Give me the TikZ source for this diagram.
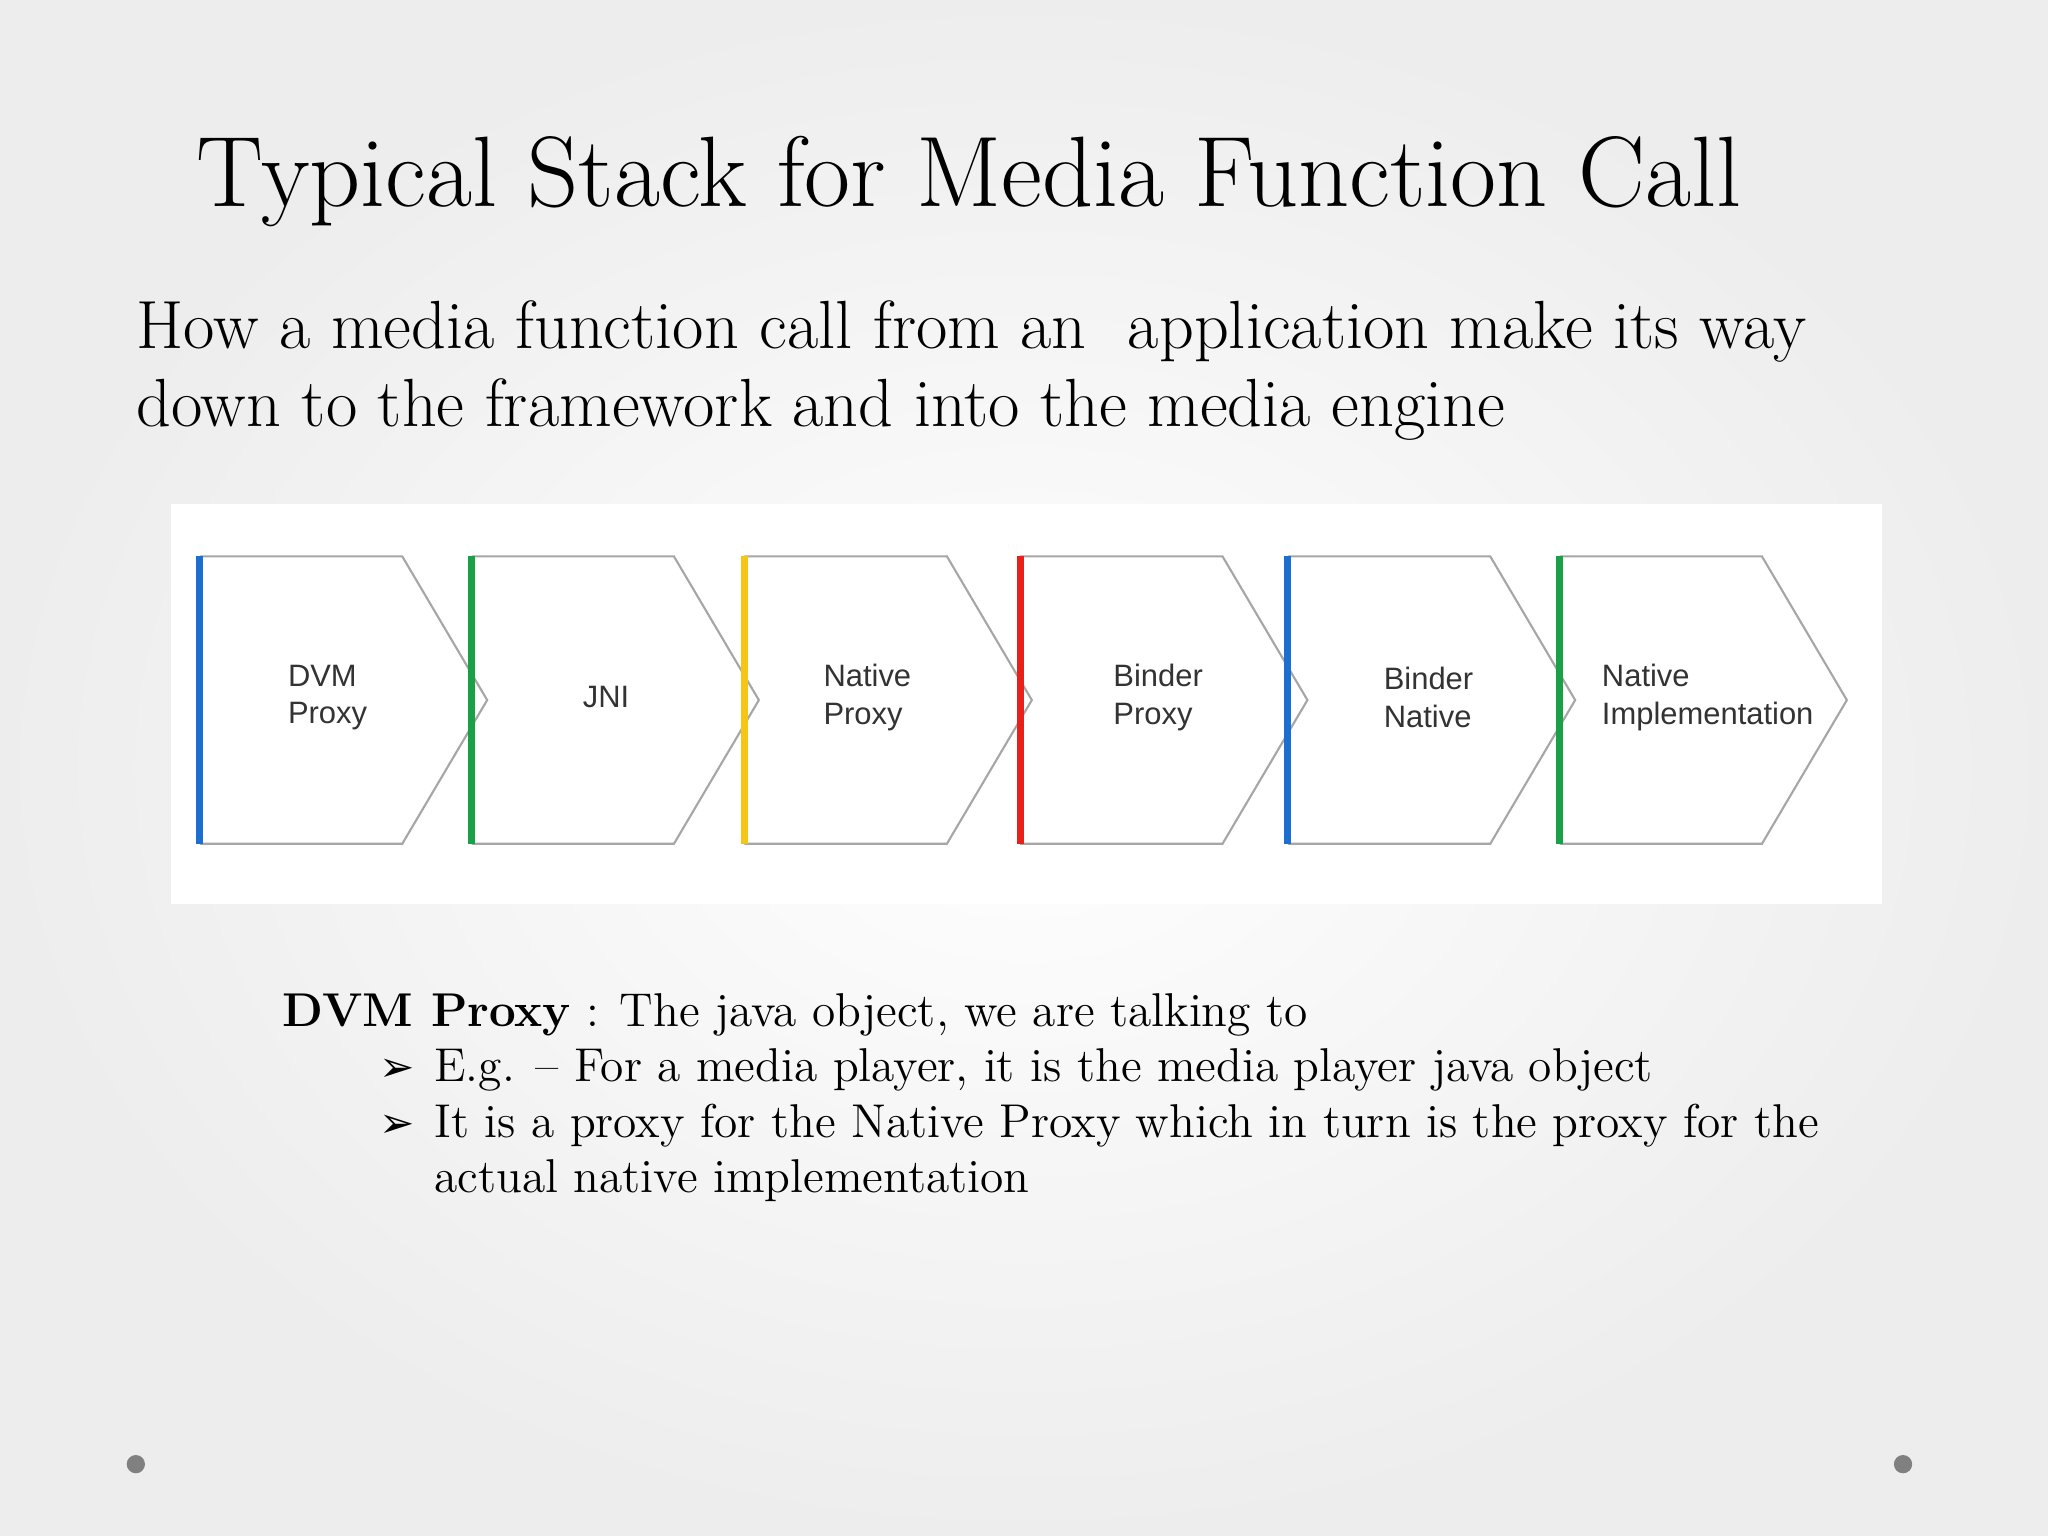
\documentclass[tikz,border=0pt]{standalone}
\usepackage{fontspec}
\newfontfamily\diag{Liberation Sans}
\newfontfamily\dingf{DejaVu Sans}
\definecolor{gblue}{HTML}{1A6FD0}
\definecolor{ggreen}{HTML}{1AA048}
\definecolor{gyellow}{HTML}{F5C518}
\definecolor{gred}{HTML}{E8201A}
\tikzset{chev/.style={draw=gray!70,fill=white,line width=0.6pt},
 lbl/.style={font=\diag\fontsize{8.8}{10.6}\selectfont,align=left,anchor=west,text=black!80},
 bar/.style={line width=2pt}}
\begin{document}
\begin{tikzpicture}[x=0.013061cm,y=-0.013061cm]
\useasboundingbox (0,0) rectangle (1568,1176);
\shade[inner color=white,outer color=gray!14] (0,0) rectangle (1568,1176);
\node[font=\fontsize{28.5}{34}\selectfont,anchor=base west,inner sep=0] (title) at (150,158) {Typical Stack for Media Function Call};
\node[font=\fontsize{19.4}{23}\selectfont,anchor=north west,align=left,inner sep=0] (sub) at (104,230) {How a media function call from an\ \ application make its way\\[-1pt]down to the framework and into the media engine};
\fill[white] (131,386) rectangle (1441,692);
\foreach \x/\n in {1194/f,986/e,781/d,570/c,361/b,153/a}{
 \draw[chev] (\x,426) -- (\x+155,426) -- (\x+220,536) -- (\x+155,646) -- (\x,646);
 \coordinate (\n) at (\x,536);
}
\foreach \x/\c in {153/gblue,361/ggreen,570/gyellow,781/gred,986/gblue,1194/ggreen}
 \draw[bar,\c] (\x,426) -- (\x,646);
\node[lbl] (la) at (211,534) {DVM\\Proxy};
\node[lbl,anchor=center,align=center] (lb) at (464,534) {JNI};
\node[lbl] (lc) at (621,534) {Native\\Proxy};
\node[lbl] (ld) at (843,534) {Binder\\Proxy};
\node[lbl] (le) at (1050,534) {Binder\\Native};
\node[lbl] (lf) at (1217,534) {Native\\Implementation};
\begin{scope}[every node/.style={font=\fontsize{13.5}{16}\selectfont,anchor=base west,inner sep=0}]
\node (t1) at (216,786) {\textbf{DVM Proxy} : The java object, we are talking to};
\node (b1) at (290,828) {\dingf\fontsize{12}{14}\selectfont ➢};
\node (t2) at (332,828) {E.g. -- For a media player, it is the media player java object};
\node (b2) at (290,871) {\dingf\fontsize{12}{14}\selectfont ➢};
\node (t3) at (332,871) {It is a proxy for the Native Proxy which in turn is the proxy for the};
\node (t4) at (332,913) {actual native implementation};
\end{scope}
\fill[gray] (104,1121) circle (7) (1457,1121) circle (7);
\end{tikzpicture}
\end{document}
